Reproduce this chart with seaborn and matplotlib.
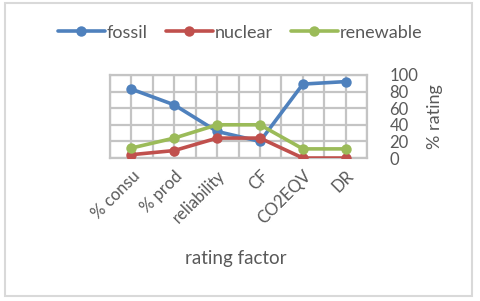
import matplotlib
matplotlib.use("Agg")
import matplotlib.pyplot as plt
import seaborn as sns
import pandas as pd
from matplotlib.patches import Rectangle

categories = ["% consu", "% prod", "reliability", "CF", "CO2EQV", "DR"]
fossil = [83, 64, 32, 20, 89, 92]
nuclear = [4, 9, 24, 24, 0, 0]
renewable = [12, 24, 40, 40, 11, 11]
series_names = ["fossil", "nuclear", "renewable"]
colors = ["#4F81BD", "#C0504D", "#9BBB59"]

rows = []
for name, vals in zip(series_names, [fossil, nuclear, renewable]):
    for i, (c, v) in enumerate(zip(categories, vals)):
        rows.append({"idx": i, "factor": c, "value": v, "series": name})
df = pd.DataFrame(rows)

sns.set_theme(style="white")
plt.rcParams["font.family"] = ["Lato", "DejaVu Sans"]
text_color = "#595959"
grid_color = "#C4C4C4"

fig = plt.figure(figsize=(4.8, 3.01), dpi=100)
ax = fig.add_axes([0.229, 0.475, 0.536, 0.276])

sns.lineplot(data=df, x="idx", y="value", hue="series", palette=colors,
             marker="o", markersize=7.5, linewidth=2.6, markeredgewidth=0,
             ax=ax, legend=True, zorder=3)

ax.set_xlim(-0.5, 5.5)
ax.set_ylim(0, 100)
ax.set_xticks(range(len(categories)))
ax.set_xticklabels(categories, rotation=45, ha="right", rotation_mode="anchor",
                   fontsize=12, color=text_color)
ax.set_xticks([i - 0.5 for i in range(len(categories) + 1)], minor=True)
ax.yaxis.tick_right()
ax.yaxis.set_label_position("right")
ax.set_yticks([0, 20, 40, 60, 80, 100])
ax.tick_params(axis="y", labelsize=12, labelcolor=text_color, length=0, pad=16)
ax.tick_params(axis="x", which="both", length=0, pad=7)

ax.xaxis.grid(True, which="major", color=grid_color, linewidth=1.6, zorder=0)
ax.xaxis.grid(True, which="minor", color=grid_color, linewidth=1.6, zorder=0)
ax.yaxis.grid(True, which="major", color=grid_color, linewidth=1.6, zorder=0)
ax.set_axisbelow(True)

for s in ax.spines.values():
    s.set_visible(True)
    s.set_color(grid_color)
    s.set_linewidth(1.6)

ax.set_ylabel("% rating", fontsize=13, color=text_color, labelpad=6)
ax.set_xlabel("rating factor", fontsize=13.5, color=text_color, va="center")
ax.xaxis.set_label_coords(0.49, -1.21)

handles, labels = ax.get_legend_handles_labels()
ax.get_legend().remove()
fig.legend(handles, labels, loc="center", bbox_to_anchor=(0.5, 0.892), ncol=3,
           frameon=False, fontsize=13, labelcolor=text_color,
           handlelength=2.6, handletextpad=0.1, columnspacing=1.0)

fig.patches.append(Rectangle((0.01, 0.015), 0.973, 0.975, transform=fig.transFigure,
                             fill=False, edgecolor="#D9D9D9", linewidth=1.5))

fig.savefig("out.png", dpi=100, facecolor="white")
